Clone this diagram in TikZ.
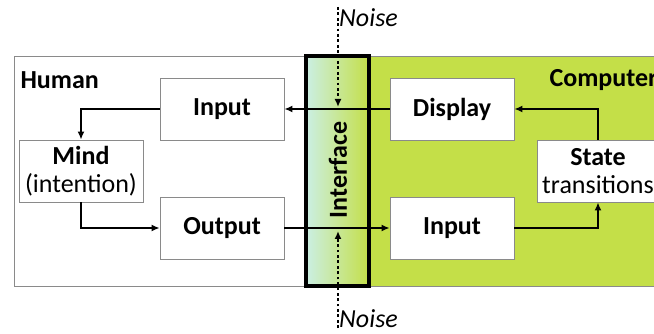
\documentclass[tikz,border=0pt]{standalone}
\usepackage{fontspec}
\setmainfont{Carlito}
\usepackage{xcolor}
\definecolor{hciComputer}{HTML}{C4DF48}
\definecolor{hciIface}{HTML}{CBEFE4}
\definecolor{hciBorder}{HTML}{8A8A8A}
\usetikzlibrary{arrows.meta}

\tikzset{
  box/.style={draw=hciBorder, line width=0.8pt, fill=white, minimum width=124pt,
    minimum height=62pt, inner sep=0pt, align=center},
  flow/.style={line width=2.4pt, -{Latex[length=8pt,width=7pt]}},
  noiseline/.style={line width=2.8pt, dash pattern=on 2.8pt off 2.6pt, -{Latex[length=8pt,width=7pt]}}
}

\begin{document}
\begin{tikzpicture}[x=1pt, y=-1pt, font=\fontsize{26}{28}\selectfont]
  \clip (0,0) rectangle (654,334);
  \fill[white] (0,0) rectangle (654,334);
  % regions
  \filldraw[fill=white, draw=hciBorder, line width=0.8pt] (14,56) rectangle (307,286);
  \filldraw[fill=hciComputer, draw=hciBorder, line width=0.8pt] (369,56) rectangle (680,286);
  \shade[left color=hciIface, right color=hciComputer] (306,56) rectangle (369,286);
  \draw[line width=3.8pt] (306,56) rectangle (369,286);
  \node[anchor=west, font=\fontsize{26}{28}\selectfont\bfseries] (human) at (17,80) {Human};
  \node[anchor=west, font=\fontsize{26}{28}\selectfont\bfseries] (computer) at (546,80) {Computer};
  \node[rotate=90, font=\fontsize{26}{28}\selectfont\bfseries] (iface) at (338,170) {Interface};
  % boxes
  \node[box] (hinput) at (222,109) {\textbf{Input}};
  \node[box] (mind) at (81,171) {\textbf{Mind}\\(intention)};
  \node[box] (output) at (222,228) {\textbf{Output}};
  \node[box] (display) at (452,109) {\textbf{Display}};
  \node[box] (cinput) at (452,228) {\textbf{Input}};
  \node[box, minimum width=122pt] (state) at (598,171) {\textbf{State}\\transitions};
  % connectors
  \draw[flow] (display.west) -- (hinput.east);
  \draw[flow] (hinput.west) -| (mind.north);
  \draw[flow] (mind.south) |- (output.west);
  \draw[flow] (output.east) -- (cinput.west);
  \draw[flow] (cinput.east) -| (state.south);
  \draw[flow] (state.north) |- (display.east);
  % noise
  \coordinate (ntop) at (338,7);
  \coordinate (nbot) at (338,328);
  \node[anchor=west, inner sep=1pt, font=\fontsize{26}{28}\selectfont\itshape] (noisetop) at (338,18) {Noise};
  \node[anchor=west, inner sep=0pt, font=\fontsize{26}{28}\selectfont\itshape] (noisebot) at (339,319) {Noise};
  \draw[noiseline] (ntop) -- (338,107);
  \draw[noiseline] (nbot) -- (338,231);
\end{tikzpicture}
\end{document}
